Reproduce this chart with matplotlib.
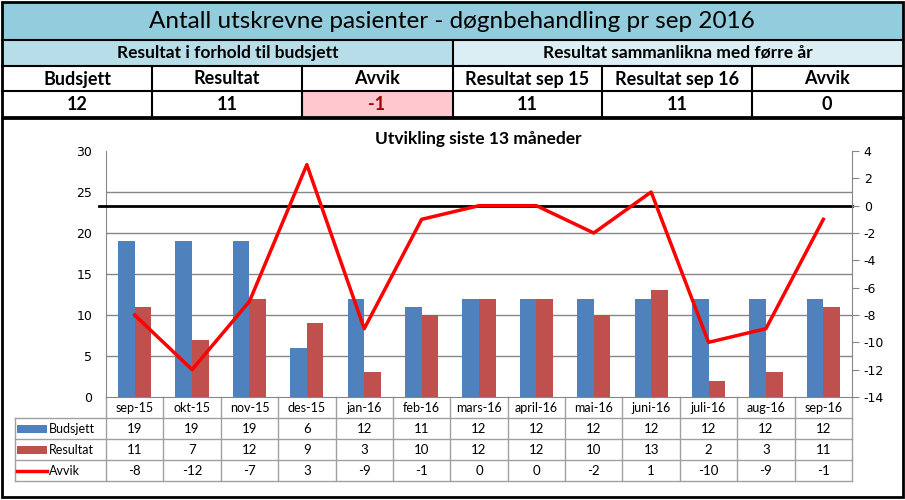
import matplotlib
matplotlib.use('Agg')
import matplotlib.pyplot as plt
from matplotlib.patches import Rectangle
import numpy as np

plt.rcParams['axes.unicode_minus'] = False

# data
months = ['sep-15', 'okt-15', 'nov-15', 'des-15', 'jan-16', 'feb-16', 'mars-16',
          'april-16', 'mai-16', 'juni-16', 'juli-16', 'aug-16', 'sep-16']
budsjett = [19, 19, 19, 6, 12, 11, 12, 12, 12, 12, 12, 12, 12]
resultat = [11, 7, 12, 9, 3, 10, 12, 12, 10, 13, 2, 3, 11]
avvik = [-8, -12, -7, 3, -9, -1, 0, 0, -2, 1, -10, -9, -1]

title = 'Antall utskrevne pasienter - døgnbehandling pr sep 2016'
group_labels = ['Resultat i forhold til budsjett', 'Resultat sammanlikna med førre år']
head_labels = ['Budsjett', 'Resultat', 'Avvik', 'Resultat sep 15', 'Resultat sep 16', 'Avvik']
head_values = ['12', '11', '-1', '11', '11', '0']

W, H = 905, 500
NARROW = ['Lato', 'DejaVu Sans']
BLUE = '#4F81BD'
RED = '#C0504D'

fig = plt.figure(figsize=(W / 100, H / 100), dpi=100)

# background axes in pixel coordinates for header and data table
bg = fig.add_axes([0, 0, 1, 1], zorder=0)
bg.set_xlim(0, W)
bg.set_ylim(H, 0)
bg.axis('off')

# header block
bg.add_patch(Rectangle((2, 2), 901, 38, facecolor='#93CDDD', edgecolor='none'))
bg.add_patch(Rectangle((2, 40), 451, 26, facecolor='#B7DEE8', edgecolor='none'))
bg.add_patch(Rectangle((453, 40), 450, 26, facecolor='#DAEEF3', edgecolor='none'))
bg.add_patch(Rectangle((303, 91), 150, 26, facecolor='#FFC7CE', edgecolor='none'))
bg.text(452, 22, title, ha='center', va='center', fontsize=17.5, family=NARROW)
bg.text(228, 53, group_labels[0], ha='center', va='center', fontsize=12.5,
        fontweight='bold', family=NARROW)
bg.text(678, 53, group_labels[1], ha='center', va='center', fontsize=12.5,
        fontweight='bold', family=NARROW)
for i, (lab, val) in enumerate(zip(head_labels, head_values)):
    cx = 2 + 150 * i + 75
    bg.text(cx, 79, lab, ha='center', va='center', fontsize=13,
            fontweight='bold', family=NARROW)
    col = '#9C0006' if i == 2 else 'black'
    bg.text(cx, 104, val, ha='center', va='center', fontsize=13,
            fontweight='bold', family=NARROW, color=col)
# header grid lines
lc = 'black'
bg.plot([2, 903], [40, 40], color=lc, lw=1.5)
bg.plot([2, 903], [66, 66], color=lc, lw=1.5)
bg.plot([2, 903], [91, 91], color=lc, lw=1.5)
bg.plot([453, 453], [40, 117], color=lc, lw=1.5)
for i in [1, 2, 4, 5]:
    bg.plot([2 + 150 * i] * 2, [66, 117], color=lc, lw=1.5)
bg.add_patch(Rectangle((2, 2), 901, 115, facecolor='none', edgecolor='black', lw=2))
bg.add_patch(Rectangle((2, 118), 901, 379, facecolor='none', edgecolor='black', lw=2))

# main chart
x0, x1, ytop, ybot = 106, 852, 151, 397
ax = fig.add_axes([x0 / W, 1 - ybot / H, (x1 - x0) / W, (ybot - ytop) / H], zorder=2)
ax.set_facecolor('none')
x = np.arange(len(months))
bw = 0.29
ax.bar(x - bw / 2, budsjett, bw, color=BLUE, zorder=2)
ax.bar(x + bw / 2, resultat, bw, color=RED, zorder=2)
ax.set_xlim(-0.5, len(months) - 0.5)
ax.set_ylim(0, 30)
ax.set_yticks(range(0, 31, 5))
for v in range(5, 30, 5):
    ax.axhline(v, color='#868686', lw=1, zorder=0)
ax.set_xticks([])
ax.tick_params(axis='y', length=0, labelsize=9, pad=10)
for s in ['top', 'right']:
    ax.spines[s].set_visible(False)
for s in ['left', 'bottom']:
    ax.spines[s].set_color('#868686')

ax2 = ax.twinx()
ax2.plot(x, avvik, color='#FF0000', lw=2.5, zorder=3)
ax2.axhline(0, color='black', lw=2, xmin=-0.01, clip_on=False, zorder=1)
ax2.set_ylim(-14, 4)
ax2.set_yticks(range(-14, 5, 2))
ax2.tick_params(axis='y', labelsize=9, length=5, color='#868686', direction='out')
for s in ['top', 'left', 'bottom']:
    ax2.spines[s].set_visible(False)
ax2.spines['right'].set_color('#868686')

fig.text(478 / W, 1 - 139 / H, 'Utvikling siste 13 måneder', ha='center', va='center',
         fontsize=12.5, fontweight='bold', family=NARROW)

# data table under the chart
cw = (x1 - x0) / len(months)
rows = [418, 439, 460, 481]
tc = '#A0A0A0'
for i in range(len(months) + 1):
    bg.plot([x0 + cw * i] * 2, [ybot, rows[-1]], color=tc, lw=1)
bg.plot([15, 15], [rows[0], rows[-1]], color=tc, lw=1)
for r in rows:
    bg.plot([15, x1], [r, r], color=tc, lw=1)
for i, m in enumerate(months):
    cx = x0 + cw * (i + 0.5)
    bg.text(cx, 408, m, ha='center', va='center', fontsize=9, family=NARROW)
    bg.text(cx, 429, str(budsjett[i]), ha='center', va='center', fontsize=9.5, family=NARROW)
    bg.text(cx, 450, str(resultat[i]), ha='center', va='center', fontsize=9.5, family=NARROW)
    bg.text(cx, 471, str(avvik[i]), ha='center', va='center', fontsize=9.5, family=NARROW)
bg.add_patch(Rectangle((17, 425), 30, 8, facecolor=BLUE, edgecolor='none'))
bg.add_patch(Rectangle((17, 446), 30, 8, facecolor=RED, edgecolor='none'))
bg.plot([17, 47], [471, 471], color='#FF0000', lw=2.5)
bg.text(49, 429, 'Budsjett', ha='left', va='center', fontsize=9, family=NARROW)
bg.text(49, 450, 'Resultat', ha='left', va='center', fontsize=9, family=NARROW)
bg.text(49, 471, 'Avvik', ha='left', va='center', fontsize=9, family=NARROW)

fig.savefig('out.png', dpi=100)
